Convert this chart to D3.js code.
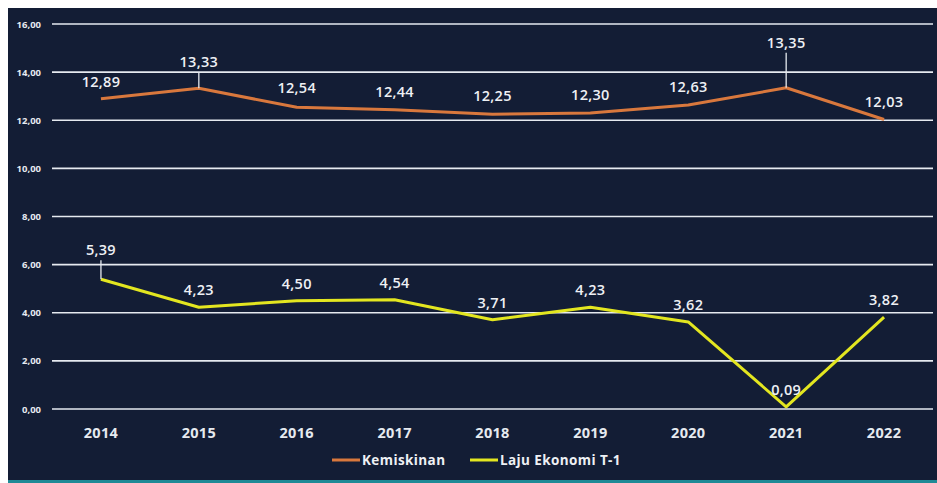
<!DOCTYPE html>
<html><head><meta charset="utf-8">
<script src="https://cdn.jsdelivr.net/npm/d3@7"></script>
<style>
html,body{margin:0;padding:0;background:#fff;}
svg{display:block;}
</style></head>
<body>
<svg id="chart" width="937" height="483"></svg>
<script>
const years = ["2014","2015","2016","2017","2018","2019","2020","2021","2022"];
const kemiskinan = [12.89,13.33,12.54,12.44,12.25,12.30,12.63,13.35,12.03];
const laju = [5.39,4.23,4.50,4.54,3.71,4.23,3.62,0.09,3.82];
const yTicks = [0,2,4,6,8,10,12,14,16];
const seriesNames = ["Kemiskinan","Laju Ekonomi T-1"];
// label vertical offsets (px, baseline relative to point)
const kemOffsets = [-12,-21,-14,-13,-13,-13,-13,-40,-13];
const lajuOffsets = [-24,-12,-12,-12,-12,-12,-12,-12,-12];
const kemLeader = [false,true,false,false,false,false,false,true,false];
const lajuLeader = [true,false,false,false,false,false,false,false,false];

const svg = d3.select("#chart");
const W = 937, H = 483;
svg.append("rect").attr("x",0).attr("y",0).attr("width",W).attr("height",H).attr("fill","#ffffff");
svg.append("rect").attr("x",8).attr("y",8).attr("width",W-8).attr("height",H-8).attr("fill","#131d35");
svg.append("rect").attr("x",8).attr("y",H-3).attr("width",W-8).attr("height",3).attr("fill","#1f8a96");

const x = d3.scaleBand().domain(years).range([52,933]).paddingInner(0).paddingOuter(0);
const y = d3.scaleLinear().domain([0,16]).range([409,24]);
const cx = d => x(d) + x.bandwidth()/2;

const fmt = v => v.toFixed(2).replace(".",",");
const font = "Open Sans, sans-serif";

// gridlines
svg.append("g").selectAll("line").data(yTicks).join("line")
  .attr("x1",52).attr("x2",933).attr("y1",d=>y(d)).attr("y2",d=>y(d))
  .attr("stroke","#e6eaf0").attr("stroke-width",1.6);

// y tick labels
svg.append("g").selectAll("text").data(yTicks).join("text")
  .attr("x",41).attr("y",d=>y(d)+3.5).attr("text-anchor","end")
  .attr("fill","#e6eaf0").attr("font-family",font)
  .attr("font-size",9.5).attr("font-weight",700)
  .text(d=>fmt(d));

// x labels
svg.append("g").selectAll("text").data(years).join("text")
  .attr("x",d=>cx(d)).attr("y",438).attr("text-anchor","middle")
  .attr("fill","#e6eaf0").attr("font-family",font)
  .attr("font-size",14.5).attr("font-weight",700).attr("letter-spacing",0.3)
  .text(d=>d);

const line = d3.line().x((d,i)=>cx(years[i])).y(d=>y(d));

function drawSeries(vals, color, offsets, leaders){
  svg.append("path").datum(vals).attr("d",line)
    .attr("fill","none").attr("stroke",color).attr("stroke-width",3)
    .attr("stroke-linejoin","round");
  const g = svg.append("g");
  vals.forEach((v,i)=>{
    const px = cx(years[i]), py = y(v);
    if(leaders[i]){
      g.append("line").attr("x1",px).attr("x2",px)
        .attr("y1",py+offsets[i]+5).attr("y2",py)
        .attr("stroke","#e6eaf0").attr("stroke-width",1.3);
    }
    g.append("text").attr("x",px).attr("y",py+offsets[i])
      .attr("text-anchor","middle").attr("fill","#eef0f4")
      .attr("font-family",font).attr("font-size",14.5)
      .attr("font-weight",600).attr("letter-spacing",0.3).text(fmt(v));
  });
}
drawSeries(kemiskinan,"#d9783d",kemOffsets,kemLeader);
drawSeries(laju,"#e3e620",lajuOffsets,lajuLeader);

// legend
const legend = svg.append("g");
const legX = [332,470];
const legColors = ["#d9783d","#e3e620"];
seriesNames.forEach((n,i)=>{
  legend.append("line").attr("x1",legX[i]).attr("x2",legX[i]+28)
    .attr("y1",460).attr("y2",460).attr("stroke",legColors[i]).attr("stroke-width",3);
  legend.append("text").attr("x",legX[i]+30).attr("y",465)
    .attr("fill","#eef0f4").attr("font-family",font)
    .attr("font-size",13.5).attr("font-weight",700).attr("letter-spacing",0.4).text(n);
});
</script>
</body></html>
